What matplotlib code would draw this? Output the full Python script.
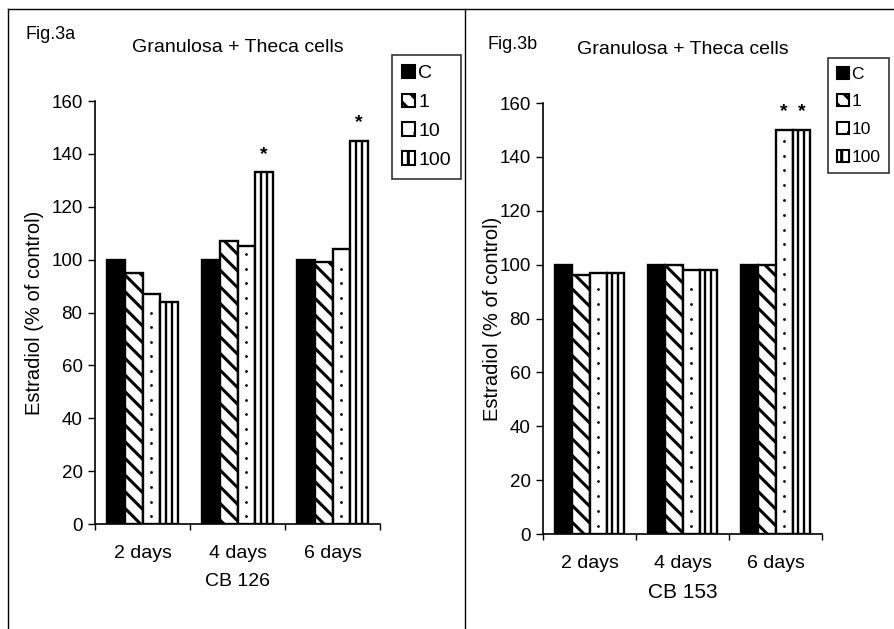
import numpy as np
import matplotlib
matplotlib.use("Agg")
import matplotlib.pyplot as plt
from matplotlib.lines import Line2D
from matplotlib.patches import Patch

plt.rcParams["font.family"] = ["Liberation Sans", "DejaVu Sans"]
plt.rcParams["hatch.linewidth"] = 2.2
plt.rcParams["hatch.color"] = "black"

days = ["2 days", "4 days", "6 days"]
doses = ["C", "1", "10", "100"]

# Estradiol, % of control
cb126 = {
    "C": [100, 100, 100],
    "1": [95, 107, 99],
    "10": [87, 105, 104],
    "100": [84, 133, 145],
}
cb153 = {
    "C": [100, 100, 100],
    "1": [96, 100, 100],
    "10": [97, 98, 150],
    "100": [97, 98, 150],
}
# significant bars: (dose, day index)
sig126 = [("100", 1), ("100", 2)]
sig153 = [("10", 2), ("100", 2)]

FACE = {"C": "black", "1": "white", "10": "white", "100": "white"}
HATCH = {"C": None, "1": "\\\\", "10": None, "100": None}
LEG_HATCH = {"C": None, "1": "\\\\", "10": ".", "100": "|"}


def panel(fig, rect, data, sig, compound, leg_anchor, leg_fs, leg_sp, xl_fs, ylpad):
    ax = fig.add_axes(rect)
    x = np.arange(len(days))
    w = 0.185
    for i, d in enumerate(doses):
        xs = x + (i - 1.5) * w
        ax.bar(xs, data[d], w, facecolor=FACE[d], edgecolor="black",
               linewidth=1.7, hatch=HATCH[d], zorder=2)
        if d == "10":
            # single column of small dots inside each bar
            for xc, v in zip(xs, data[d]):
                yy = np.arange(3.0, v - 2, 5.5)
                ax.scatter(np.full(len(yy), xc), yy, s=4, color="black",
                           linewidths=0, zorder=3)
        if d == "100":
            # two inner vertical rules, splitting each bar in thirds
            for off in (-w / 6, w / 6):
                ax.vlines(xs + off, 0, data[d], color="black", linewidth=1.7, zorder=3)
    for d, j in sig:
        i = doses.index(d)
        ax.text(x[j] + (i - 1.5) * w, data[d][j] + 3.5, "*", ha="center", va="bottom",
                fontsize=14, fontweight="bold")

    ax.set_xlim(-0.5, len(days) - 0.5)
    ax.set_ylim(0, 160)
    ax.set_yticks(range(0, 161, 20))
    ax.set_xticks(x)
    ax.set_xticklabels(days, fontsize=14)
    ax.set_xticks(np.arange(len(days) + 1) - 0.5, minor=True)
    ax.tick_params(axis="x", which="major", length=0, pad=15)
    ax.tick_params(axis="x", which="minor", length=4, width=1, direction="out")
    ax.tick_params(axis="y", length=5, width=1, labelsize=13.5, pad=4)
    for s in ("top", "right"):
        ax.spines[s].set_visible(False)
    for s in ("left", "bottom"):
        ax.spines[s].set_linewidth(1.2)
    ax.set_xlabel(compound, fontsize=xl_fs, labelpad=8)
    ax.set_ylabel("Estradiol (% of control)", fontsize=14.5, labelpad=ylpad)
    ax.set_title("Granulosa + Theca cells", fontsize=14, pad=35)

    handles = [Patch(facecolor=FACE[d], edgecolor="black", linewidth=1.5,
                     hatch=LEG_HATCH[d]) for d in doses]
    leg = fig.legend(handles=handles, labels=doses, loc="upper left",
                     bbox_to_anchor=leg_anchor, frameon=True, fancybox=False,
                     fontsize=leg_fs, handlelength=0.7, handleheight=0.7,
                     handletextpad=0.15, labelspacing=leg_sp, borderpad=0.5,
                     borderaxespad=0)
    leg.get_frame().set_edgecolor("black")
    leg.get_frame().set_linewidth(1.2)
    return ax


fig = plt.figure(figsize=(8.94, 6.29), dpi=100)

panel(fig, [0.1063, 0.1669, 0.3188, 0.6725], cb126, sig126, "CB 126",
      (0.4385, 0.9126), 14, 0.58, 14, 5)
panel(fig, [0.6074, 0.151, 0.3121, 0.6852], cb153, sig153, "CB 153",
      (0.926, 0.908), 12.5, 0.72, 15, -2)

fig.text(0.028, 0.945, "Fig.3a", fontsize=13, va="center", ha="left")
fig.text(0.545, 0.93, "Fig.3b", fontsize=13, va="center", ha="left")

# panel frames
for xs, ys in [([0.009, 1.0], [0.986, 0.986]),
               ([0.009, 0.009], [0.0, 0.986]),
               ([0.52, 0.52], [0.0, 0.986])]:
    fig.add_artist(Line2D(xs, ys, transform=fig.transFigure, color="black", linewidth=1))

fig.savefig("out.png", dpi=100)
